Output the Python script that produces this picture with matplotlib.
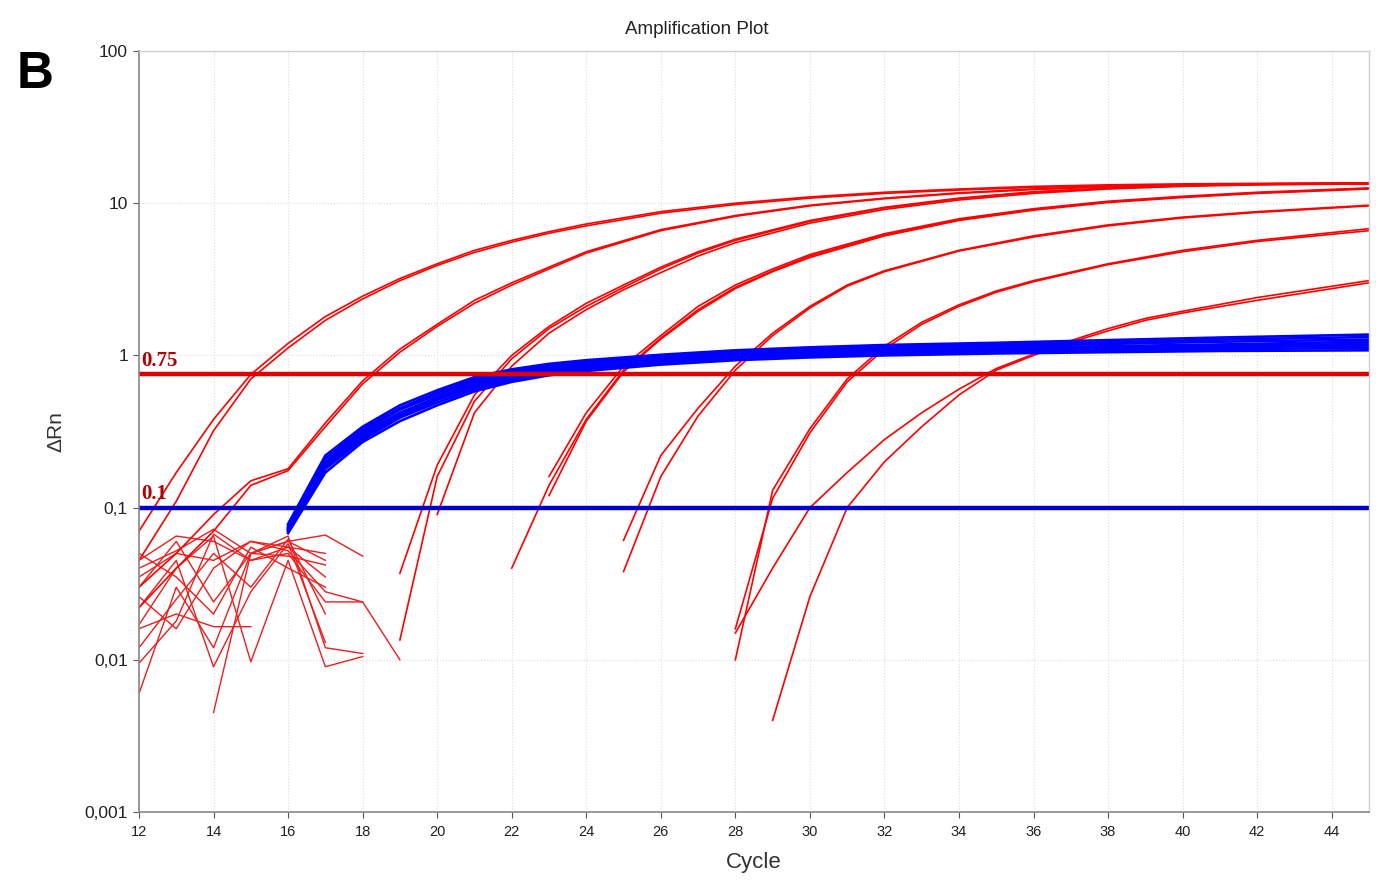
import numpy as np
import matplotlib
matplotlib.use("Agg")
import matplotlib.pyplot as plt

plt.rcParams['font.family'] = ['Liberation Sans', 'DejaVu Sans']

# ---- data ----
# smooth red amplification groups (dilution series), cycles and replicate values
g12_cycles = [12, 13, 14, 15, 16, 17, 18, 19, 20, 21, 22, 23, 24, 26, 28, 30, 32, 34, 36, 38, 40, 42, 45]
g1_a = [0.07, 0.17, 0.38, 0.75, 1.2, 1.8, 2.45, 3.2, 4.0, 4.9, 5.7, 6.5, 7.3, 8.8, 10.0, 11.0, 11.8, 12.4, 12.9, 13.2, 13.4, 13.5, 13.6]
g1_b = [0.045, 0.11, 0.32, 0.7, 1.12, 1.7, 2.35, 3.1, 3.9, 4.75, 5.55, 6.35, 7.1, 8.6, 9.8, 10.8, 11.6, 12.2, 12.7, 13.0, 13.2, 13.3, 13.4]
g2_a = [0.03, 0.05, 0.09, 0.15, 0.18, 0.36, 0.68, 1.1, 1.6, 2.3, 3.0, 3.8, 4.8, 6.7, 8.3, 9.7, 10.8, 11.7, 12.4, 12.9, 13.2, 13.4, 13.5]
g2_b = [0.022, 0.04, 0.07, 0.14, 0.175, 0.34, 0.65, 1.05, 1.55, 2.2, 2.9, 3.7, 4.7, 6.6, 8.2, 9.6, 10.7, 11.6, 12.3, 12.8, 13.1, 13.3, 13.4]

g3_cycles = [19, 20, 21, 22, 23, 24, 25, 26, 27, 28, 30, 32, 34, 36, 38, 40, 42, 45]
g3_a = [0.037, 0.19, 0.55, 1.0, 1.55, 2.2, 2.9, 3.8, 4.8, 5.8, 7.7, 9.4, 10.8, 11.9, 12.6, 13.1, 13.4, 13.6]
g3_b = [0.0135, 0.16, 0.5, 0.95, 1.5, 2.1, 2.8, 3.7, 4.7, 5.7, 7.6, 9.3, 10.7, 11.8, 12.5, 13.0, 13.3, 13.5]
g3_c_cycles = [20, 21, 22, 23, 24, 25, 26, 27, 28, 30, 32, 34, 36, 38, 40, 42, 45]
g3_c = [0.09, 0.42, 0.85, 1.4, 2.0, 2.7, 3.5, 4.5, 5.5, 7.4, 9.1, 10.5, 11.6, 12.4, 12.9, 13.2, 13.4]

g4_a_cycles = [22, 23, 24, 25, 26, 27, 28, 29, 30, 32, 34, 36, 38, 40, 42, 45]
g4_a = [0.04, 0.14, 0.38, 0.8, 1.3, 2.0, 2.8, 3.6, 4.5, 6.2, 7.8, 9.1, 10.2, 11.0, 11.7, 12.5]
g4_cycles = [23, 24, 25, 26, 27, 28, 29, 30, 32, 34, 36, 38, 40, 42, 45]
g4_b = [0.16, 0.42, 0.85, 1.35, 2.1, 2.9, 3.7, 4.6, 6.3, 7.9, 9.2, 10.3, 11.1, 11.8, 12.6]
g4_c = [0.12, 0.37, 0.78, 1.28, 1.95, 2.75, 3.55, 4.4, 6.1, 7.7, 9.0, 10.1, 10.9, 11.6, 12.4]

g5_cycles = [25, 26, 27, 28, 29, 30, 31, 32, 34, 36, 38, 40, 42, 45]
g5_a = [0.061, 0.22, 0.45, 0.85, 1.4, 2.1, 2.9, 3.6, 4.9, 6.1, 7.2, 8.1, 8.8, 9.7]
g5_b = [0.038, 0.16, 0.4, 0.8, 1.35, 2.05, 2.85, 3.55, 4.85, 6.0, 7.1, 8.0, 8.7, 9.6]

g6_cycles = [28, 29, 30, 31, 32, 33, 34, 35, 36, 38, 40, 42, 45]
g6_a = [0.01, 0.13, 0.33, 0.7, 1.15, 1.65, 2.15, 2.65, 3.1, 4.0, 4.9, 5.7, 6.8]
g6_b = [0.016, 0.115, 0.31, 0.67, 1.1, 1.6, 2.1, 2.6, 3.05, 3.95, 4.8, 5.6, 6.6]

g7_a_cycles = [29, 30, 31, 32, 33, 34, 35, 36, 37, 38, 39, 40, 42, 45]
g7_a = [0.004, 0.026, 0.1, 0.2, 0.34, 0.55, 0.8, 1.0, 1.22, 1.45, 1.7, 1.9, 2.3, 3.0]
g7_b_cycles = [28, 29, 30, 31, 32, 33, 34, 35, 36, 37, 38, 39, 40, 42, 45]
g7_b = [0.015, 0.04, 0.1, 0.17, 0.28, 0.42, 0.6, 0.82, 1.02, 1.25, 1.5, 1.75, 1.95, 2.4, 3.1]

red_curves = [
    (g12_cycles, g1_a), (g12_cycles, g1_b), (g12_cycles, g2_a), (g12_cycles, g2_b),
    (g3_cycles, g3_a), (g3_cycles, g3_b), (g3_c_cycles, g3_c),
    (g4_a_cycles, g4_a), (g4_cycles, g4_b), (g4_cycles, g4_c),
    (g5_cycles, g5_a), (g5_cycles, g5_b),
    (g6_cycles, g6_a), (g6_cycles, g6_b),
    (g7_a_cycles, g7_a), (g7_b_cycles, g7_b),
]

# noisy baseline traces (cycles 12-19)
noise_traces = [
    ([12, 13, 14, 15, 16, 17], [0.045, 0.065, 0.06, 0.045, 0.055, 0.035]),
    ([12, 13, 14, 15, 16, 17, 18], [0.04, 0.052, 0.072, 0.05, 0.06, 0.066, 0.048]),
    ([12, 13, 14, 15, 16, 17], [0.03, 0.06, 0.024, 0.05, 0.048, 0.042]),
    ([12, 13, 14, 15, 16, 17], [0.022, 0.045, 0.009, 0.028, 0.058, 0.013]),
    ([12, 13, 14, 15, 16, 17, 18], [0.017, 0.04, 0.065, 0.0097, 0.045, 0.009, 0.0105]),
    ([12, 13, 14, 15], [0.016, 0.02, 0.0165, 0.0165]),
    ([12, 13, 14, 15, 16, 17, 18, 19], [0.0095, 0.018, 0.067, 0.045, 0.05, 0.024, 0.024, 0.01]),
    ([12, 13, 14, 15, 16, 17, 18], [0.006, 0.03, 0.012, 0.05, 0.065, 0.012, 0.011]),
    ([14, 15, 16, 17], [0.0045, 0.05, 0.06, 0.045]),
    ([12, 13, 14, 15, 16, 17], [0.05, 0.035, 0.02, 0.055, 0.04, 0.03]),
    ([12, 13, 14, 15, 16, 17, 18], [0.035, 0.05, 0.045, 0.06, 0.052, 0.028, 0.024]),
    ([12, 13, 14, 15, 16, 17], [0.012, 0.025, 0.05, 0.03, 0.062, 0.02]),
    ([12, 13, 14, 15, 16, 17], [0.026, 0.016, 0.04, 0.06, 0.055, 0.05]),
]

# blue curves (reference gene replicates)
blue_cycles = [16, 17, 18, 19, 20, 21, 22, 23, 24, 26, 28, 30, 32, 35, 38, 41, 45]
blue_reps = [
    [0.068, 0.17, 0.27, 0.37, 0.47, 0.58, 0.67, 0.74, 0.79, 0.87, 0.93, 0.97, 1.0, 1.03, 1.05, 1.07, 1.08],
    [0.070, 0.18, 0.28, 0.39, 0.49, 0.60, 0.69, 0.76, 0.81, 0.89, 0.95, 0.99, 1.02, 1.05, 1.08, 1.10, 1.12],
    [0.071, 0.185, 0.29, 0.40, 0.51, 0.62, 0.71, 0.78, 0.83, 0.91, 0.97, 1.01, 1.04, 1.07, 1.10, 1.13, 1.16],
    [0.072, 0.19, 0.30, 0.41, 0.52, 0.64, 0.73, 0.80, 0.85, 0.93, 0.99, 1.03, 1.06, 1.09, 1.12, 1.15, 1.19],
    [0.073, 0.195, 0.31, 0.42, 0.53, 0.66, 0.75, 0.82, 0.87, 0.95, 1.01, 1.05, 1.08, 1.12, 1.15, 1.18, 1.23],
    [0.074, 0.20, 0.32, 0.44, 0.55, 0.68, 0.77, 0.84, 0.89, 0.97, 1.03, 1.08, 1.11, 1.15, 1.19, 1.23, 1.27],
    [0.076, 0.21, 0.33, 0.45, 0.57, 0.70, 0.79, 0.86, 0.91, 0.99, 1.06, 1.11, 1.14, 1.18, 1.22, 1.27, 1.32],
    [0.078, 0.22, 0.34, 0.47, 0.59, 0.72, 0.81, 0.88, 0.93, 1.01, 1.08, 1.13, 1.17, 1.21, 1.26, 1.31, 1.37],
]

red_threshold = 0.75
blue_threshold = 0.1

x_ticks = list(range(12, 45, 2))
y_ticks = [0.001, 0.01, 0.1, 1, 10, 100]
y_tick_labels = ["0,001", "0,01", "0,1", "1", "10", "100"]

# ---- figure ----
fig = plt.figure(figsize=(13.76, 8.8), dpi=100)
ax = fig.add_axes([139 / 1376, 1 - 812 / 880, 1230 / 1376, 761 / 880])

ax.set_yscale('log')
ax.set_xlim(12, 45)
ax.set_ylim(0.001, 100)

ax.grid(True, which='major', color='#dcdcdc', linestyle=':', linewidth=0.8)

for cyc, vals in noise_traces:
    ax.plot(cyc, vals, color='#ee1c1c', linewidth=1.0)

for cyc, vals in red_curves:
    ax.plot(cyc, vals, color='#ff0000', linewidth=1.2)

for vals in blue_reps:
    ax.plot(blue_cycles, vals, color='#0000ff', linewidth=1.9)

ax.axhline(red_threshold, color='#e00000', linewidth=3.2)
ax.axhline(blue_threshold, color='#0000cc', linewidth=3.2)

ax.text(12.05, red_threshold * 1.05, "0.75", color='#b00000', fontsize=15,
        fontweight='bold', family='Liberation Serif', va='bottom', ha='left')
ax.text(12.05, blue_threshold * 1.05, "0.1", color='#b00000', fontsize=15,
        fontweight='bold', family='Liberation Serif', va='bottom', ha='left')

ax.set_xticks(x_ticks)
ax.set_xticklabels([str(t) for t in x_ticks])
ax.set_yticks(y_ticks)
ax.set_yticklabels(y_tick_labels)
ax.minorticks_off()
ax.tick_params(axis='both', colors='#555555', labelcolor='#222222', length=4, width=0.8)
ax.tick_params(axis='x', labelsize=10.5, pad=5)
ax.tick_params(axis='y', labelsize=12.5, pad=4)

for side in ['left', 'bottom']:
    ax.spines[side].set_color('#888888')
    ax.spines[side].set_linewidth(1.2)
for side in ['top', 'right']:
    ax.spines[side].set_color('#d0d0d0')
    ax.spines[side].set_linewidth(1.0)

ax.set_xlabel("Cycle", fontsize=16, color='#333333', labelpad=10)
ax.set_ylabel("ΔRn", fontsize=15, color='#333333', labelpad=14)

fig.text(697 / 1376, 1 - 30 / 880, "Amplification Plot", fontsize=13.5,
         color='#222222', ha='center', va='center')
fig.text(35 / 1376, 1 - 74 / 880, "B", fontsize=37, fontweight='bold',
         family='Liberation Sans', ha='center', va='center', color='black')

fig.savefig("out.png", dpi=100)
